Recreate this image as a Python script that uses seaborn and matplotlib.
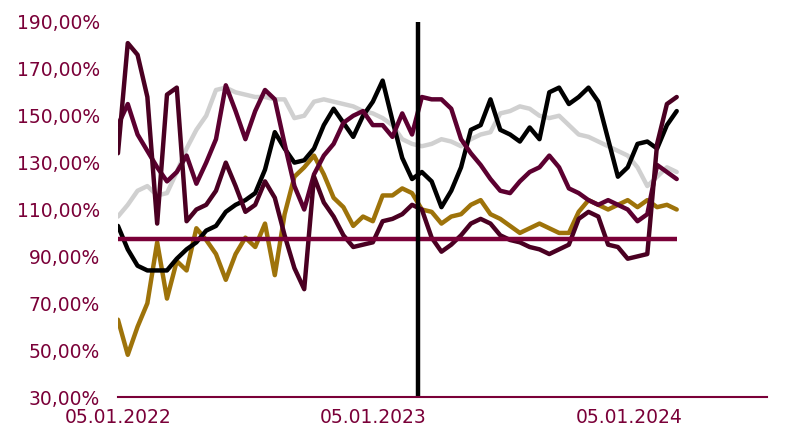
# Gráfico de evolución de índices (base 100) con línea de referencia y evento marcado
import pandas as pd
import matplotlib
matplotlib.use("Agg")
import matplotlib.pyplot as plt
import matplotlib.dates as mdates
from matplotlib.ticker import FuncFormatter
import seaborn as sns

# Datos (valores quincenales, en %)
fecha_inicio = "2022-01-05"
frecuencia = "14D"

gris = [107, 112, 118, 120, 116, 117, 126, 136, 144, 150,
        161, 162, 160, 159, 158, 158, 157, 157, 149, 150,
        156, 157, 156, 155, 154, 152, 151, 149, 146, 140,
        138, 137, 138, 140, 139, 137, 140, 142, 143, 151,
        152, 154, 153, 150, 149, 150, 146, 142, 141, 139,
        137, 135, 133, 128, 120, 124, 128, 126]

negro = [103, 93, 86, 84, 84, 84, 89, 93, 96, 101,
         103, 109, 112, 114, 117, 127, 143, 136, 130, 131,
         136, 146, 153, 147, 141, 150, 156, 165, 148, 132,
         123, 126, 122, 111, 118, 128, 144, 146, 157, 144,
         142, 139, 145, 140, 160, 162, 155, 158, 162, 156,
         140, 124, 128, 138, 139, 136, 146, 152]

dorado = [63, 48, 60, 70, 96, 72, 88, 84, 102, 97,
          91, 80, 91, 98, 94, 104, 82, 108, 124, 128,
          133, 125, 115, 111, 103, 107, 105, 116, 116, 119,
          117, 110, 109, 104, 107, 108, 112, 114, 108, 106,
          103, 100, 102, 104, 102, 100, 100, 109, 114, 112,
          110, 112, 114, 111, 114, 111, 112, 110]

granate_1 = [134, 181, 176, 158, 104, 159, 162, 105, 110, 112,
             118, 130, 120, 109, 112, 122, 115, 99, 85, 76,
             124, 113, 107, 99, 94, 95, 96, 105, 106, 108,
             112, 110, 98, 92, 95, 99, 104, 106, 104, 99,
             97, 96, 94, 93, 91, 93, 95, 106, 109, 107,
             95, 94, 89, 90, 91, 138, 155, 158]

granate_2 = [146, 155, 142, 135, 128, 122, 126, 133, 121, 130,
             140, 163, 152, 140, 152, 161, 157, 138, 120, 110,
             125, 133, 138, 147, 150, 152, 146, 146, 141, 151,
             142, 158, 157, 157, 153, 140, 134, 129, 123, 118,
             117, 122, 126, 128, 133, 128, 119, 117, 114, 112,
             114, 112, 110, 105, 108, 129, 126, 123]

nivel_referencia = 97.5
fecha_evento = "2023-03-09"
fecha_fin_eje = "2024-07-20"
fechas_ticks = ["2022-01-05", "2023-01-05", "2024-01-05"]
ticks_y = [30, 50, 70, 90, 110, 130, 150, 170, 190]

# Colores
colores = {
    "gris": "#d0d0d0",
    "dorado": "#9e730a",
    "negro": "#000000",
    "granate_2": "#5c0030",
    "granate_1": "#4a0022",
}
granate_eje = "#7a0038"

# Armar el dataframe en formato largo
fechas = pd.date_range(fecha_inicio, periods=len(gris), freq=frecuencia)
df = pd.DataFrame({
    "fecha": fechas,
    "gris": gris,
    "negro": negro,
    "dorado": dorado,
    "granate_1": granate_1,
    "granate_2": granate_2,
})
df_largo = df.melt(id_vars="fecha", var_name="serie", value_name="valor")

sns.set_style("white")
plt.rcParams["font.family"] = ["DejaVu Sans"]

fig = plt.figure(figsize=(7.88, 4.48), dpi=100)
ax = fig.add_axes([0.1497, 0.1138, 0.8237, 0.8371])

sns.lineplot(data=df_largo, x="fecha", y="valor", hue="serie",
             hue_order=list(colores.keys()), palette=colores,
             estimator=None, linewidth=3.2, legend=False, ax=ax)

# Línea de referencia horizontal y evento vertical
ax.hlines(nivel_referencia, fechas[0], fechas[-1], color=granate_eje, linewidth=3.2)
ax.axvline(pd.Timestamp(fecha_evento), color="black", linewidth=3.2)

# Ejes
ax.set_ylim(ticks_y[0], ticks_y[-1])
ax.set_yticks(ticks_y)
ax.yaxis.set_major_formatter(FuncFormatter(lambda v, _: f"{v:.2f}%".replace(".", ",")))
ax.set_xlim(pd.Timestamp(fecha_inicio), pd.Timestamp(fecha_fin_eje))
ax.set_xticks(pd.to_datetime(fechas_ticks))
ax.xaxis.set_major_formatter(mdates.DateFormatter("%d.%m.%Y"))
ax.set_xlabel("")
ax.set_ylabel("")

for lado in ["top", "right", "left"]:
    ax.spines[lado].set_visible(False)
ax.spines["bottom"].set_color(granate_eje)
ax.spines["bottom"].set_linewidth(1.5)

ax.tick_params(axis="y", length=0, pad=13, labelsize=13.5, labelcolor=granate_eje)
ax.tick_params(axis="x", length=4, width=1.5, color=granate_eje,
               labelsize=13.5, labelcolor=granate_eje, pad=4)

fig.savefig("out.png", dpi=100)
plt.close(fig)
